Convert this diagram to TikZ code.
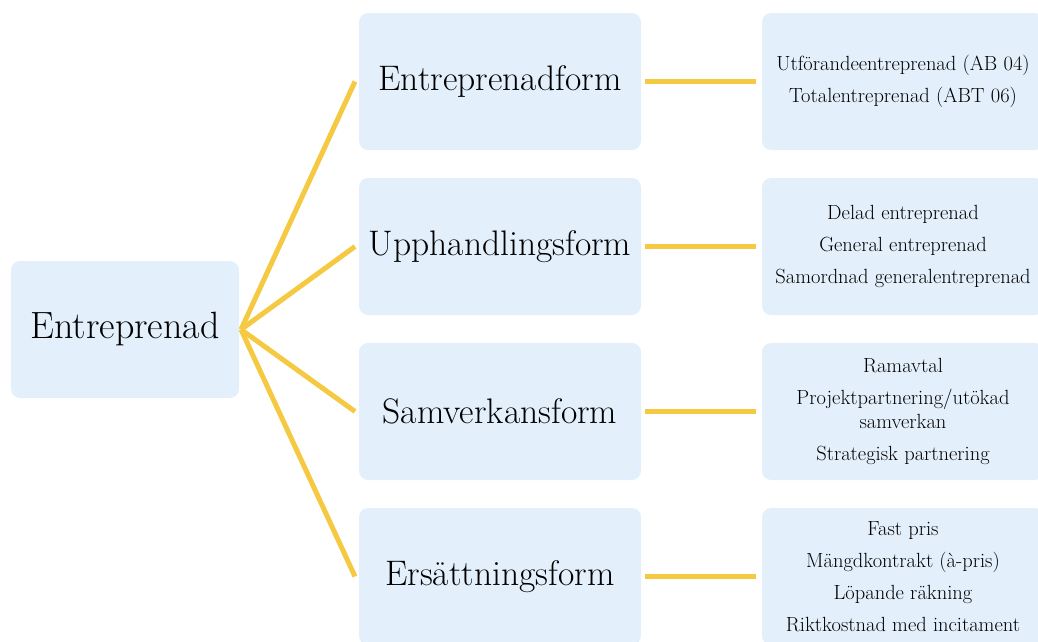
\documentclass[tikz,border=0pt]{standalone}
\usepackage{tikz}
\definecolor{boxblue}{RGB}{227,240,252}
\definecolor{linkgold}{RGB}{246,201,67}
\newcommand{\rootfont}{\fontsize{38}{44}\selectfont}
\newcommand{\formfont}{\fontsize{35.5}{42}\selectfont}
\newcommand{\listfont}{\fontsize{20.5}{24}\selectfont}
\tikzstyle{box}=[fill=boxblue, rounded corners=9pt, inner sep=0, outer xsep=4pt, minimum height=137pt, align=center]
\tikzstyle{rootbox}=[box, minimum width=228pt, outer xsep=2pt, font=\rootfont]
\tikzstyle{formbox}=[box, minimum width=282pt, font=\formfont]
\tikzstyle{listbox}=[box, minimum width=282pt, outer xsep=6pt, font=\listfont]
\tikzstyle{branch}=[draw=linkgold, line width=5pt]
\tikzstyle{mindmap}=[x=1pt, y=-1pt,
                     % page is the reference's pixel frame, boxes may run off it
                     execute at begin picture={\useasboundingbox (0,0) rectangle (1038,641);}]

\begin{document}
\begin{tikzpicture}[mindmap]
        \node[rootbox] (root) at (125, 329.5) {Entreprenad};
        \node[formbox] (form1) at (500, 81.5) {Entreprenadform};
        \node[formbox] (form2) at (500, 246.5) {Upphandlingsform};
        \node[formbox] (form3) at (500, 411.5) {Samverkansform};
        \node[formbox] (form4) at (500, 576.5) {Ersättningsform};
        \node[listbox] (list1) at (903, 81.5) {Utförandeentreprenad (AB 04)\\[8pt]Totalentreprenad (ABT 06)};
        \node[listbox] (list2) at (903, 246.5) {Delad entreprenad\\[8pt]General entreprenad\\[8pt]Samordnad generalentreprenad};
        \node[listbox] (list3) at (903, 411.5) {Ramavtal\\[8pt]Projektpartnering/utökad\\samverkan\\[8pt]Strategisk partnering};
        \node[listbox] (list4) at (903, 576.5) {Fast pris\\[8pt]Mängdkontrakt (à-pris)\\[8pt]Löpande räkning\\[8pt]Riktkostnad med incitament};
        \draw[branch] (root.east) -- (form1.west);
        \draw[branch] (root.east) -- (form2.west);
        \draw[branch] (root.east) -- (form3.west);
        \draw[branch] (root.east) -- (form4.west);
        \draw[branch] (form1.east) -- (list1.west);
        \draw[branch] (form2.east) -- (list2.west);
        \draw[branch] (form3.east) -- (list3.west);
        \draw[branch] (form4.east) -- (list4.west);
    \end{tikzpicture}
\end{document}
